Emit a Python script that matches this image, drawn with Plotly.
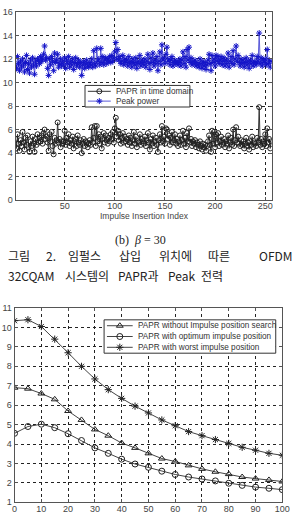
import plotly.graph_objects as go

# ---------------- data: top chart (beta = 30) ----------------
idx = list(range(1, 257))
peak_power = [
    11.4, 11.2, 12.2, 11.6, 11.0, 11.8, 11.3, 12.0, 11.5, 10.9, 11.7, 12.3, 11.1, 11.6, 10.8, 11.9,
    11.3, 12.1, 11.5, 10.7, 11.8, 11.4, 12.0, 11.9, 11.6, 12.2, 11.8, 12.0, 12.4, 13.1, 11.9, 12.1,
    11.2, 10.6, 12.0, 11.5, 12.2, 11.8, 11.0, 12.5, 11.7, 11.9, 12.4, 11.3, 11.6, 12.0, 11.4, 11.8,
    11.5, 12.1, 11.2, 11.9, 11.6, 12.2, 11.3, 11.8, 11.5, 12.0, 11.1, 11.7, 12.1, 11.4, 11.6, 11.9,
    11.3, 11.7, 10.6, 11.5, 11.8, 11.2, 11.6, 11.9, 11.4, 11.3, 11.7, 11.5, 12.0, 11.3, 12.7, 11.6,
    11.4, 12.9, 11.8, 12.0, 11.5, 12.9, 11.7, 12.2, 11.5, 11.9, 12.1, 11.6, 12.0, 11.8, 12.2, 11.7,
    12.3, 11.8, 12.1, 12.6, 13.4, 12.0, 12.8, 11.9, 12.2, 11.6, 11.8, 12.3, 11.5, 12.0, 11.7, 11.9,
    11.4, 12.2, 11.6, 11.8, 11.3, 12.0, 11.7, 11.5, 12.1, 11.2, 11.8, 11.6, 12.3, 11.4, 11.9, 11.7,
    11.5, 12.0, 11.3, 11.8, 12.4, 11.6, 11.1, 12.1, 11.7, 12.5, 11.4, 11.9, 11.6, 12.2, 11.0, 11.8,
    12.6, 11.5, 13.2, 11.9, 12.1, 11.6, 12.4, 13.0, 11.8, 12.0, 11.5, 11.9, 12.2, 11.4, 11.7, 11.9,
    11.6, 11.8, 11.5, 11.7, 12.0, 11.4, 11.9, 12.6, 11.6, 12.2, 11.3, 12.8, 11.9, 13.0, 11.7, 12.1,
    11.5, 11.8, 11.6, 11.9, 11.4, 11.7, 11.5, 11.3, 12.0, 11.6, 11.2, 11.8, 11.4, 11.7, 11.1, 11.5,
    11.9, 12.4, 11.6, 11.0, 12.3, 11.7, 12.0, 11.4, 12.3, 11.8, 12.2, 11.6, 11.9, 12.2, 11.5, 11.8,
    12.1, 11.4, 11.9, 11.6, 12.5, 11.3, 11.8, 12.2, 11.6, 12.7, 11.5, 12.0, 13.1, 11.8, 12.3, 11.7,
    11.4, 12.0, 11.6, 11.9, 11.3, 11.7, 12.1, 11.5, 11.8, 11.2, 11.9, 11.6, 12.3, 11.4, 11.8, 11.7,
    11.5, 12.2, 11.8, 14.2, 11.6, 12.1, 11.4, 11.9, 11.7, 12.0, 11.5, 12.8, 11.6, 11.9, 11.3, 11.8,
]
papr_time = [
    5.2, 4.4, 5.6, 4.8, 4.2, 5.1, 4.6, 5.8, 4.9, 4.3, 5.3, 4.7, 5.5, 4.5, 4.1, 5.0,
    4.6, 5.4, 4.8, 4.1, 5.2, 4.7, 5.6, 4.9, 5.3, 5.0, 5.5, 4.8, 5.7, 6.0, 5.2, 5.4,
    4.9, 4.2, 5.6, 5.0, 5.8, 4.6, 3.9, 5.3, 4.8, 5.1, 6.6, 4.9, 5.2, 4.5, 5.0, 4.8,
    5.0, 5.9, 4.7, 5.3, 4.9, 5.6, 4.6, 5.1, 4.8, 5.4, 4.4, 5.0, 5.2, 4.6, 5.5, 4.9,
    4.7, 5.1, 4.0, 4.8, 5.2, 4.6, 5.0, 4.9, 4.5, 4.8, 5.1, 4.7, 6.2, 4.9, 5.3, 6.3,
    4.6, 6.3, 5.0, 5.6, 4.8, 5.4, 4.4, 5.2, 5.7, 4.9, 5.5, 5.1, 4.8, 5.3, 5.0, 5.6,
    5.2, 5.8, 4.9, 6.1, 7.0, 5.4, 5.9, 5.1, 5.6, 4.8, 5.3, 5.7, 4.9, 5.4, 5.0, 5.2,
    4.7, 5.5, 4.9, 5.3, 4.6, 5.1, 5.8, 4.8, 5.4, 4.5, 5.0, 4.9, 5.6, 4.7, 5.2, 5.0,
    4.8, 5.4, 4.6, 5.1, 5.7, 4.9, 4.3, 5.2, 4.8, 5.5, 4.6, 5.0, 5.3, 4.7, 4.1, 5.1,
    5.6, 4.9, 6.3, 5.0, 5.4, 4.8, 6.1, 6.0, 5.2, 5.5, 4.7, 5.3, 5.8, 4.9, 5.1, 5.6,
    4.8, 5.2, 4.6, 5.0, 5.5, 4.7, 5.1, 5.9, 4.8, 5.3, 4.5, 5.7, 5.0, 6.1, 4.9, 5.2,
    4.6, 5.0, 4.8, 5.1, 4.5, 4.9, 4.7, 4.4, 5.0, 4.6, 4.3, 4.8, 4.5, 4.7, 4.2, 4.6,
    5.0, 5.5, 4.7, 4.1, 5.9, 4.8, 5.8, 4.5, 5.6, 4.9, 5.7, 4.6, 5.0, 5.4, 4.7, 4.9,
    5.2, 4.5, 5.0, 4.8, 5.5, 4.4, 4.9, 5.3, 4.7, 6.0, 4.6, 5.1, 6.2, 4.9, 5.4, 4.8,
    4.6, 5.1, 4.7, 5.0, 4.4, 4.8, 5.3, 4.6, 4.9, 4.3, 5.0, 4.7, 5.4, 4.5, 4.9, 4.8,
    4.6, 5.3, 4.9, 7.9, 4.7, 5.2, 4.5, 5.0, 4.8, 5.6, 4.6, 6.1, 4.9, 5.2, 4.4, 5.0,
]
top_xticks = [50, 100, 150, 200, 250]
top_yticks = [0, 2, 4, 6, 8, 10, 12, 14, 16]
top_names = ["PAPR in time domain", "Peak power"]

# ---------------- data: bottom chart ----------------
pos = [0, 5, 10, 15, 20, 25, 30, 35, 40, 45, 50, 55, 60, 65, 70, 75, 80, 85, 90, 95, 100]
papr_no_search = [6.9, 6.85, 6.6, 6.3, 5.7, 5.24, 4.75, 4.43, 4.05, 3.8, 3.52,
                  3.25, 3.1, 2.9, 2.72, 2.57, 2.45, 2.3, 2.22, 2.15, 2.07]
papr_optimum = [4.55, 4.9, 5.02, 4.84, 4.53, 4.18, 3.8, 3.52, 3.22, 2.97, 2.8,
                2.6, 2.43, 2.3, 2.2, 2.1, 1.98, 1.87, 1.78, 1.72, 1.65]
papr_worst = [10.35, 10.4, 10.05, 9.4, 8.7, 8.0, 7.35, 6.8, 6.35, 5.95, 5.6,
              5.24, 4.94, 4.64, 4.43, 4.23, 4.03, 3.83, 3.68, 3.52, 3.42]
bot_xticks = [0, 10, 20, 30, 40, 50, 60, 70, 80, 90, 100]
bot_yticks = [1, 2, 3, 4, 5, 6, 7, 8, 9, 10, 11]
bot_names = ["PAPR without Impulse position search",
             "PAPR with optimum impulse position",
             "PAPR with worst impulse position"]

W, H = 299, 521
TICKFONT = dict(family="Liberation Sans, Arial", size=9, color="#444")
GRID = dict(showgrid=True, gridcolor="#222", griddash="dot", gridwidth=1)
AX = dict(showline=True, linecolor="#555", linewidth=1, mirror="ticks",
          ticks="inside", ticklen=3, tickcolor="#555", zeroline=False,
          tickfont=TICKFONT, fixedrange=True)

fig = go.Figure()

# top chart traces
fig.add_trace(go.Scatter(x=idx, y=papr_time, mode="lines+markers", name=top_names[0],
                         line=dict(color="#333", width=1),
                         marker=dict(symbol="circle-open", size=5, color="#222", line=dict(width=1)),
                         xaxis="x", yaxis="y", showlegend=False))
fig.add_trace(go.Scatter(x=idx, y=peak_power, mode="lines+markers", name=top_names[1],
                         line=dict(color="#5a5ad8", width=1),
                         marker=dict(symbol="asterisk-open", size=5, color="#1414c8", line=dict(width=1, color="#1414c8")),
                         xaxis="x", yaxis="y", showlegend=False))

# bottom chart traces
bot_series = [papr_no_search, papr_optimum, papr_worst]
bot_symbols = ["triangle-up-open", "circle-open", "asterisk-open"]
for ys, nm, sym in zip(bot_series, bot_names, bot_symbols):
    fig.add_trace(go.Scatter(x=pos, y=ys, mode="lines+markers", name=nm,
                             line=dict(color="#444", width=1),
                             marker=dict(symbol=sym, size=6, color="#222", line=dict(width=1, color="#222")),
                             xaxis="x2", yaxis="y2", showlegend=False))

# ---- manual legends (pixel overlay axes, drawn above both charts) ----
legend_top = dict(box=(83, 82, 193, 104), rows=[88, 98], line=(86, 110), text_x=113)
legend_bot = dict(box=(103, 321, 283, 355), rows=[327, 338, 349], line=(106, 133), text_x=136)
LEGFONT = dict(family="Liberation Sans, Arial", size=8.2, color="#333")

shapes = []
annotations = []

def add_legend(spec, names, colors, symbols, mcolors, msize):
    x0, y0, x1, y1 = spec["box"]
    shapes.append(dict(type="rect", xref="x3", yref="y3", x0=x0, y0=y0, x1=x1, y1=y1,
                       line=dict(color="#333", width=1), fillcolor="white", layer="below"))
    lx0, lx1 = spec["line"]
    for ry, nm, c, sym, mc in zip(spec["rows"], names, colors, symbols, mcolors):
        shapes.append(dict(type="line", xref="x3", yref="y3", x0=lx0, x1=lx1, y0=ry, y1=ry,
                           line=dict(color=c, width=1), layer="below"))
        fig.add_trace(go.Scatter(x=[(lx0 + lx1) / 2], y=[ry], mode="markers",
                                 marker=dict(symbol=sym, size=msize, color=mc, line=dict(width=1, color=mc)),
                                 xaxis="x3", yaxis="y3", showlegend=False, hoverinfo="skip"))
        annotations.append(dict(xref="x3", yref="y3", x=spec["text_x"], y=ry, text=nm,
                                showarrow=False, xanchor="left", yanchor="middle", font=LEGFONT))

add_legend(legend_top, top_names, ["#333", "#5a5ad8"], ["circle-open", "asterisk-open"], ["#222", "#1414c8"], 5)
add_legend(legend_bot, bot_names, ["#444"] * 3, bot_symbols, ["#222"] * 3, 6)

# axis title of top chart
annotations.append(dict(xref="x3", yref="y3", x=145, y=215, text="Impulse Insertion Index",
                        showarrow=False, font=dict(family="Liberation Sans, Arial", size=8.5, color="#444")))

# caption text
annotations.append(dict(xref="x3", yref="y3", x=141, y=240, text="(b)  <i>β</i> = 30",
                        showarrow=False, font=dict(family="Liberation Serif, DejaVu Serif", size=12, color="#222")))
KFONT = dict(family="Noto Sans CJK KR", size=12, color="#222")
line1 = [("그림", 0), ("2.", 40), ("임펄스", 63), ("삽입", 117), ("위치에", 158), ("따른", 210), ("OFDM", 263)]
line2 = [("32CQAM", 0), ("시스템의", 60), ("PAPR과", 116), ("Peak", 168), ("전력", 203)]
for word, xw in line1:
    annotations.append(dict(xref="x3", yref="y3", x=xw, y=255, text=word, showarrow=False,
                            xanchor="left", yanchor="middle", font=KFONT))
for word, xw in line2:
    annotations.append(dict(xref="x3", yref="y3", x=xw, y=276, text=word, showarrow=False,
                            xanchor="left", yanchor="middle", font=KFONT))

def py(p):
    return 1 - p / H

fig.update_layout(
    width=W, height=H, margin=dict(l=0, r=0, t=0, b=0),
    paper_bgcolor="white", plot_bgcolor="rgba(0,0,0,0)", hovermode=False,
    xaxis=dict(domain=[13 / W, 279 / W], range=[1, 256.5], tickvals=top_xticks, anchor="y",
               ticklabelstandoff=-3, **GRID, **AX),
    yaxis=dict(domain=[py(199), py(7)], range=[0, 16], tickvals=top_yticks, anchor="x", **GRID, **AX),
    xaxis2=dict(domain=[12 / W, 290 / W], range=[0, 100], tickvals=bot_xticks, anchor="y2",
                ticklabelstandoff=-2, **GRID, **AX),
    yaxis2=dict(domain=[py(507), py(309)], range=[1, 11], tickvals=bot_yticks, anchor="x2", **GRID, **AX),
    xaxis3=dict(domain=[0, 1], range=[-3, W], visible=False, anchor="y3", fixedrange=True),
    yaxis3=dict(domain=[0, 1], range=[H, 0], visible=False, anchor="x3", fixedrange=True),
    shapes=shapes, annotations=annotations,
)

fig.write_html("out.html")
